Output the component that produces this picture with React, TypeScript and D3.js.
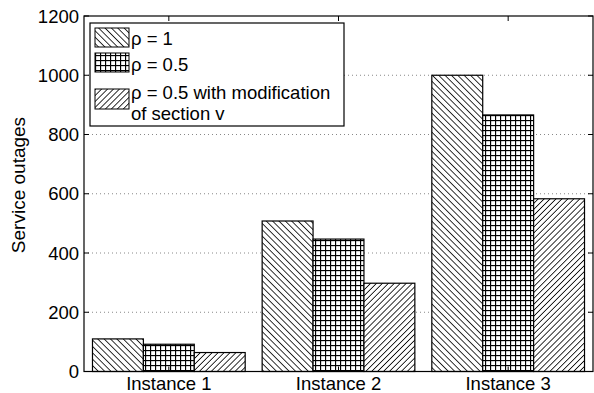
import React from 'react';
import * as d3 from 'd3';

// --- Data ---
const categories = ['Instance 1', 'Instance 2', 'Instance 3'];
const seriesNames = ['ρ = 1', 'ρ = 0.5', 'ρ = 0.5 with modification|of section v'];
const rho1 = [110, 508, 1000];
const rho05 = [92, 447, 866];
const rho05mod = [64, 298, 583];
const yTicks = [0, 200, 400, 600, 800, 1000, 1200];

const W = 594, H = 393;
const margin = { left: 84, right: 1, top: 16, bottom: 21.5 };
const FONT = 'Liberation Sans, Arial, Helvetica, sans-serif';

const App = () => {
    const series = [rho1, rho05, rho05mod];
    const patterns = ['hatchBack', 'hatchGrid', 'hatchFwd'];

    const x = d3.scaleLinear().domain([0.5, 3.5]).range([margin.left, W - margin.right]);
    const y = d3.scaleLinear().domain([0, 1200]).range([H - margin.bottom, margin.top]);

    // matlab style grouped bars: group width 0.9 of a unit
    const groupW = x(1.45) - x(0.55);
    const inner = d3.scaleBand().domain(d3.range(series.length).map(String)).range([0, groupW]);

    const x0 = x.range()[0], x1 = x.range()[1];
    const y0 = y.range()[0], y1 = y.range()[1];

    return (
        <svg width={W} height={H} style={{ position: 'absolute', left: 0, top: 0, background: '#fff' }} fontFamily={FONT}>
            <defs>
                <pattern id="hatchBack" width="4.5" height="4.5" patternUnits="userSpaceOnUse" patternTransform="rotate(-45)">
                    <rect width="4.5" height="4.5" fill="#fff" />
                    <line x1="0" y1="0" x2="0" y2="4.5" stroke="#000" strokeWidth="1.6" />
                </pattern>
                <pattern id="hatchFwd" width="4.2" height="4.2" patternUnits="userSpaceOnUse" patternTransform="rotate(45)">
                    <rect width="4.2" height="4.2" fill="#fff" />
                    <line x1="0" y1="0" x2="0" y2="4.2" stroke="#000" strokeWidth="1.6" />
                </pattern>
                <pattern id="hatchGrid" width="5" height="5" patternUnits="userSpaceOnUse">
                    <rect width="5" height="5" fill="#fff" />
                    <line x1="0" y1="0.5" x2="5" y2="0.5" stroke="#000" strokeWidth="1.3" />
                    <line x1="0.5" y1="0" x2="0.5" y2="5" stroke="#000" strokeWidth="1.3" />
                </pattern>
            </defs>

            {/* grid */}
            {yTicks.filter(t => t > 0 && t < 1200).map(t => (
                <line key={'g' + t} x1={x0} x2={x1} y1={y(t)} y2={y(t)} stroke="#888" strokeWidth="1" strokeDasharray="1,3" />
            ))}

            {/* bars */}
            {series.map((vals, si) => vals.map((v, ci) => (
                <rect key={si + '-' + ci}
                    x={x(ci + 1) - groupW / 2 + (inner(String(si)) || 0)}
                    y={y(v)}
                    width={inner.bandwidth()}
                    height={y(0) - y(v)}
                    fill={`url(#${patterns[si]})`}
                    stroke="#000" strokeWidth="1.2" />
            )))}

            {/* box and ticks */}
            <rect x={x0} y={y1} width={x1 - x0} height={y0 - y1} fill="none" stroke="#000" strokeWidth="1.2" />
            {yTicks.map(t => (
                <g key={'yt' + t}>
                    <line x1={x0} x2={x0 + 5} y1={y(t)} y2={y(t)} stroke="#000" />
                    <line x1={x1} x2={x1 - 5} y1={y(t)} y2={y(t)} stroke="#000" />
                    <text x={x0 - 5} y={y(t)} dy="0.36em" textAnchor="end" fontSize="18.5">{t}</text>
                </g>
            ))}
            {categories.map((c, i) => (
                <g key={c}>
                    <line x1={x(i + 1)} x2={x(i + 1)} y1={y0} y2={y0 - 5} stroke="#000" />
                    <line x1={x(i + 1)} x2={x(i + 1)} y1={y1} y2={y1 + 5} stroke="#000" />
                    <text x={x(i + 1)} y={y0 + 18} textAnchor="middle" fontSize="18.5">{c}</text>
                </g>
            ))}

            <text transform={`translate(25,185) rotate(-90)`} textAnchor="middle" fontSize="19">Service outages</text>

            {/* legend */}
            <g>
                <rect x={90} y={23} width={254} height={103} fill="#fff" stroke="#000" strokeWidth="1.2" />
                {seriesNames.map((name, i) => {
                    const sy = [28, 53, 89][i];
                    const sh = [19, 19, 20][i];
                    const lines = name.split('|');
                    return (
                        <g key={name}>
                            <rect x={95} y={sy} width={34} height={sh} fill={`url(#${patterns[i]})`} stroke="#000" strokeWidth="1" />
                            {lines.map((l, li) => (
                                <text key={l} x={131} y={[45, 71, 99][i] + li * 21} fontSize="18.5">{l}</text>
                            ))}
                        </g>
                    );
                })}
            </g>
        </svg>
    );
};

export default App;
